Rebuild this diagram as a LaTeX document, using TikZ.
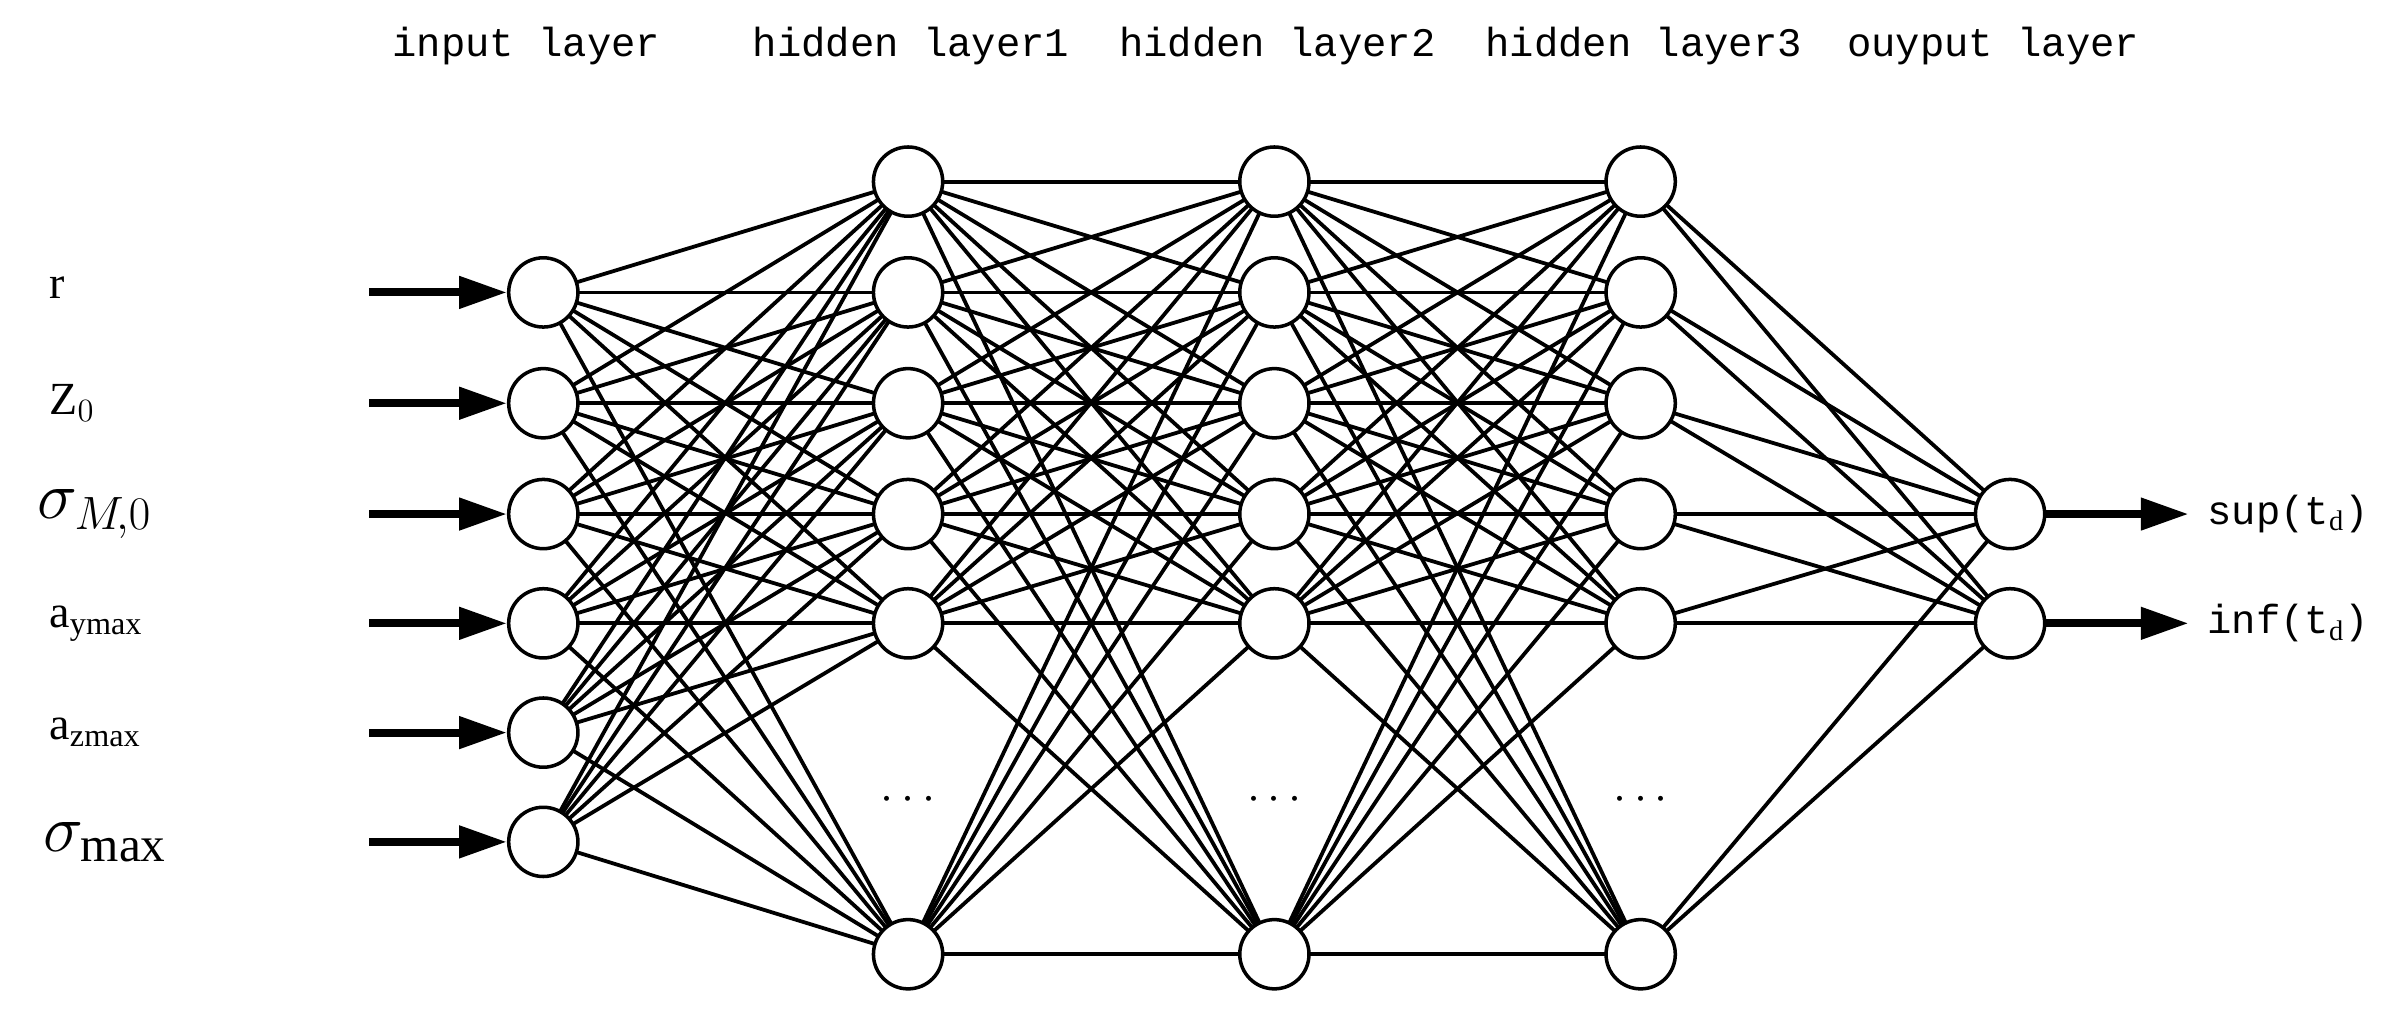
\documentclass[tikz,border=0pt]{standalone}
\usepackage{fontspec}
\setmainfont{Liberation Serif}
\newfontfamily\titlefont{Liberation Mono}
\usetikzlibrary{arrows.meta,positioning}
\tikzset{neuron/.style={circle,draw,line width=1.3pt,fill=white,minimum size=0.9cm,inner sep=0pt},
  link/.style={line width=1.4pt},
  feed/.style={line width=3pt,-{Triangle[length=0.62cm,width=0.4cm]}},
  title/.style={font=\titlefont\fontsize{15}{18}\selectfont}}
\begin{document}
\begin{tikzpicture}[x=0.02cm,y=-0.02cm]
  \useasboundingbox (0,0) rectangle (1560,658);

  % layer titles
  \node[title] (tin) at (342,30) {input layer};
  \node[title] (th1) at (592,30) {hidden layer1};
  \node[title] (th2) at (830,30) {hidden layer2};
  \node[title] (th3) at (1068,30) {hidden layer3};
  \node[title] (tout) at (1295,30) {ouyput layer};

  % input neurons
  \foreach \i/\y in {1/190,2/262,3/334,4/405,5/476,6/547}
    \coordinate (in\i) at (353,\y);

  % hidden neurons
  \foreach \l/\x in {a/590,b/828,c/1066}{
    \foreach \i/\y in {1/118,2/190,3/262,4/334,5/405,6/620}
      \coordinate (h\l\i) at (\x,\y);
    \node (dots\l) at (\x,520) {\fontsize{16}{18}\selectfont$\cdots$};
  }

  % output neurons
  \coordinate (out1) at (1306,334);
  \coordinate (out2) at (1306,405);

  % connections
  \foreach \i in {1,...,6}
    \foreach \j in {1,...,6}{
      \draw[link] (in\i) -- (ha\j);
      \draw[link] (ha\i) -- (hb\j);
      \draw[link] (hb\i) -- (hc\j);
    }
  \foreach \i in {1,...,6}
    \foreach \j in {1,2}
      \draw[link] (hc\i) -- (out\j);

  % circles on top
  \foreach \i in {1,...,6}{
    \node[neuron] (nin\i) at (in\i) {};
    \node[neuron] (nha\i) at (ha\i) {};
    \node[neuron] (nhb\i) at (hb\i) {};
    \node[neuron] (nhc\i) at (hc\i) {};
  }
  \node[neuron] (nout1) at (out1) {};
  \node[neuron] (nout2) at (out2) {};

  % inputs
  \foreach \i/\y in {1/190,2/262,3/334,4/405,5/476,6/547}{
    \coordinate (src\i) at (240,\y);
    \draw[feed] (src\i) -- (nin\i.west);
  }
  \node[anchor=west,font=\fontsize{17}{20}\selectfont] (lab1) at (26,187) {r};
  \node[anchor=west,font=\fontsize{17}{20}\selectfont] (lab2) at (26,262) {Z$_0$};
  \node[anchor=west,font=\fontsize{26}{28}\selectfont] (lab3) at (18,334) {$\sigma_{\fontsize{12}{14}\selectfont M\!,0}$};
  \node[anchor=west,font=\fontsize{17}{20}\selectfont] (lab4) at (26,405) {a$_\mathrm{ymax}$};
  \node[anchor=west,font=\fontsize{17}{20}\selectfont] (lab5) at (26,476) {a$_\mathrm{zmax}$};
  \node[anchor=west,font=\fontsize{26}{28}\selectfont] (lab6) at (22,547) {$\sigma_{\fontsize{11}{13}\selectfont\mathrm{max}}$};

  % outputs
  \coordinate (dst1) at (1422,334);
  \coordinate (dst2) at (1422,405);
  \draw[feed] (nout1.east) -- (dst1);
  \draw[feed] (nout2.east) -- (dst2);
  \node[title,anchor=west] (sup) at (1428,334) {sup(t$_\mathrm{d}$)};
  \node[title,anchor=west] (inf) at (1428,405) {inf(t$_\mathrm{d}$)};
\end{tikzpicture}
\end{document}
